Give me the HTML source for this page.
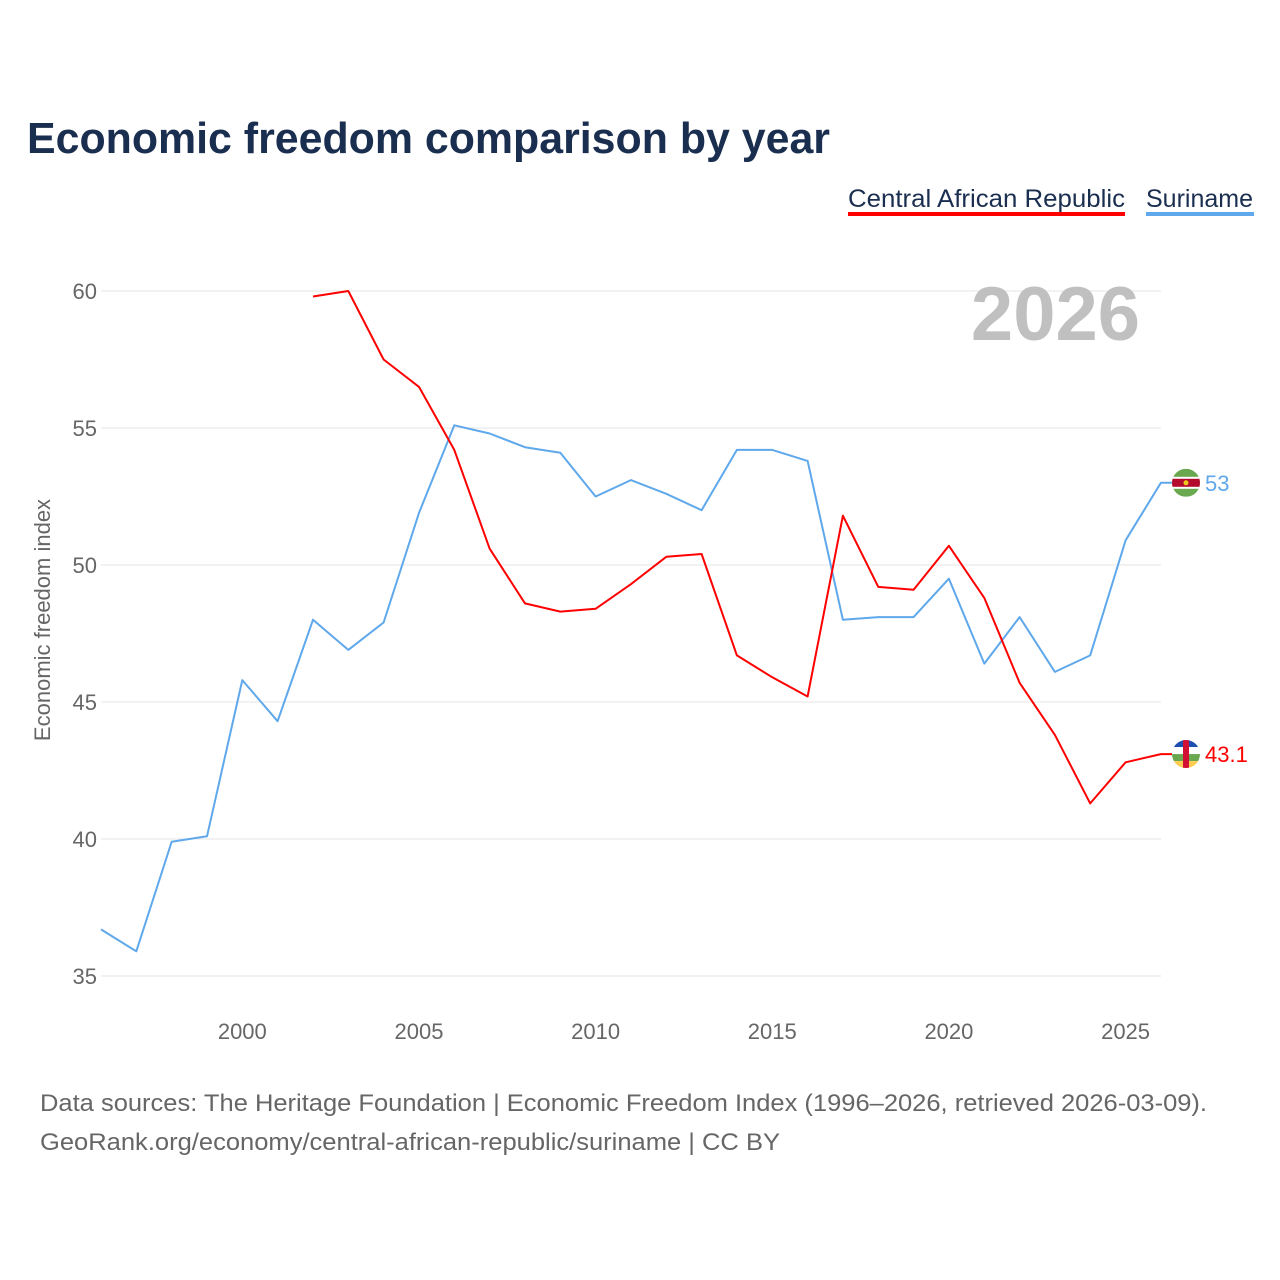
<!DOCTYPE html>
<html><head><meta charset="utf-8">
<style>
body{margin:0;background:#fff;font-family:"Liberation Sans",sans-serif;}
#wrap{position:relative;width:1280px;height:1280px;overflow:hidden;}
</style></head>
<body><div id="wrap">
<svg id="chart" width="1280" height="1280"></svg>
</div>
<script>
const years=[1996,1997,1998,1999,2000,2001,2002,2003,2004,2005,2006,2007,2008,2009,2010,2011,2012,2013,2014,2015,2016,2017,2018,2019,2020,2021,2022,2023,2024,2025,2026];
const surinameValues=[36.7,35.9,39.9,40.1,45.8,44.3,48.0,46.9,47.9,51.9,55.1,54.8,54.3,54.1,52.5,53.1,52.6,52.0,54.2,54.2,53.8,48.0,48.1,48.1,49.5,46.4,48.1,46.1,46.7,50.9,53.0];
const carValues=[null,null,null,null,null,null,59.8,60.0,57.5,56.5,54.2,50.6,48.6,48.3,48.4,49.3,50.3,50.4,46.7,45.9,45.2,51.8,49.2,49.1,50.7,48.8,45.7,43.8,41.3,42.8,43.1];
const yTicks=[35,40,45,50,55,60];
const xTicks=[2000,2005,2010,2015,2020,2025];

const NS="http://www.w3.org/2000/svg";
const svg=document.getElementById('chart');
const X=y=>101+(y-1996)*35.33;
const Y=v=>291+(60-v)*27.4;
function el(tag,attrs,parent){const e=document.createElementNS(NS,tag);for(const k in attrs)e.setAttribute(k,attrs[k]);(parent||svg).appendChild(e);return e;}
function txt(s,attrs){const t=el('text',attrs);t.textContent=s;return t;}

let t=txt('Economic freedom comparison by year',{x:27,y:153,'font-size':44,'font-weight':'bold',fill:'#1a2e4f',textLength:803,lengthAdjust:'spacingAndGlyphs'});



t=txt('Central African Republic',{x:848,y:207,'font-size':25,fill:'#1a2e4f',textLength:277,lengthAdjust:'spacingAndGlyphs'});


let r=el('rect',{x:848,y:212,width:277,height:4,fill:'#ff0000'});


t=txt('Suriname',{x:1146,y:207,'font-size':25,fill:'#1a2e4f',textLength:107,lengthAdjust:'spacingAndGlyphs'});


r=el('rect',{x:1146,y:212,width:108,height:4,fill:'#5ea8eb'});



yTicks.forEach(v=>{
  const l=el('line',{x1:101,x2:1161,y1:Y(v),y2:Y(v),stroke:'#e6e6e6','stroke-width':1});
  
  
  const tt=txt(String(v),{x:97,y:Y(v)+8,'text-anchor':'end','font-size':22,fill:'#666'});
  
  
});
xTicks.forEach(y=>{
  const tt=txt(String(y),{x:X(y),y:1039,'text-anchor':'middle','font-size':22,fill:'#666'});
  
  
});
t=txt('Economic freedom index',{x:0,y:0,'font-size':22,fill:'#666','text-anchor':'middle',transform:'translate(50,620) rotate(-90)'});



t=txt('2026',{x:1140,y:340,'text-anchor':'end','font-size':76,'font-weight':'bold',fill:'#c0c0c0'});



function line(vals,color,name,ext){
  let d='';vals.forEach((v,i)=>{if(v==null)return;d+=(d?'L':'M')+X(years[i]).toFixed(1)+','+Y(v).toFixed(1);});
  if(ext)d+='L1172,'+Y(vals[vals.length-1]).toFixed(1);
  const p=el('path',{d:d,fill:'none',stroke:color,'stroke-width':2,'stroke-linejoin':'round'});
  
  
}
line(surinameValues,'#5ea8eb','suriname-line',true);
line(carValues,'#ff0000','car-line',true);

function endLabel(vals,color,name,flag){
  const v=vals[vals.length-1];const cx=1186,cy=Y(v);
  const g=el('g',{});
  
  
  const cp=el('clipPath',{id:'c'+name},g);el('circle',{cx:cx,cy:cy,r:14},cp);
  const inner=el('g',{'clip-path':'url(#c'+name+')'},g);
  flag(inner,cx,cy);
  const tt=txt(String(v),{x:1205,y:cy+8,'font-size':22,fill:color});
  
  
}
endLabel(surinameValues,'#5ea8eb','suriname',(g,cx,cy)=>{
  el('rect',{x:cx-14,y:cy-14,width:28,height:28,fill:'#6aa84f'},g);
  el('rect',{x:cx-14,y:cy-6,width:28,height:12,fill:'#fff'},g);
  el('rect',{x:cx-14,y:cy-4,width:28,height:8,fill:'#b40a2d'},g);
  el('circle',{cx:cx,cy:cy,r:2.5,fill:'#ecc81d'},g);
});
endLabel(carValues,'#ff0000','car',(g,cx,cy)=>{
  const c=['#1e4fb0','#fff','#6aa84f','#ffce50'];
  c.forEach((col,i)=>el('rect',{x:cx-14,y:cy-14+i*7,width:28,height:7,fill:col},g));
  el('rect',{x:cx-3,y:cy-14,width:6,height:28,fill:'#d21034'},g);
});

t=txt('Data sources: The Heritage Foundation | Economic Freedom Index (1996–2026, retrieved 2026-03-09).',{x:40,y:1111,'font-size':24,fill:'#666',textLength:1167,lengthAdjust:'spacingAndGlyphs'});


t=txt('GeoRank.org/economy/central-african-republic/suriname | CC BY',{x:40,y:1150,'font-size':24,fill:'#666',textLength:740,lengthAdjust:'spacingAndGlyphs'});


</script>
</body></html>
